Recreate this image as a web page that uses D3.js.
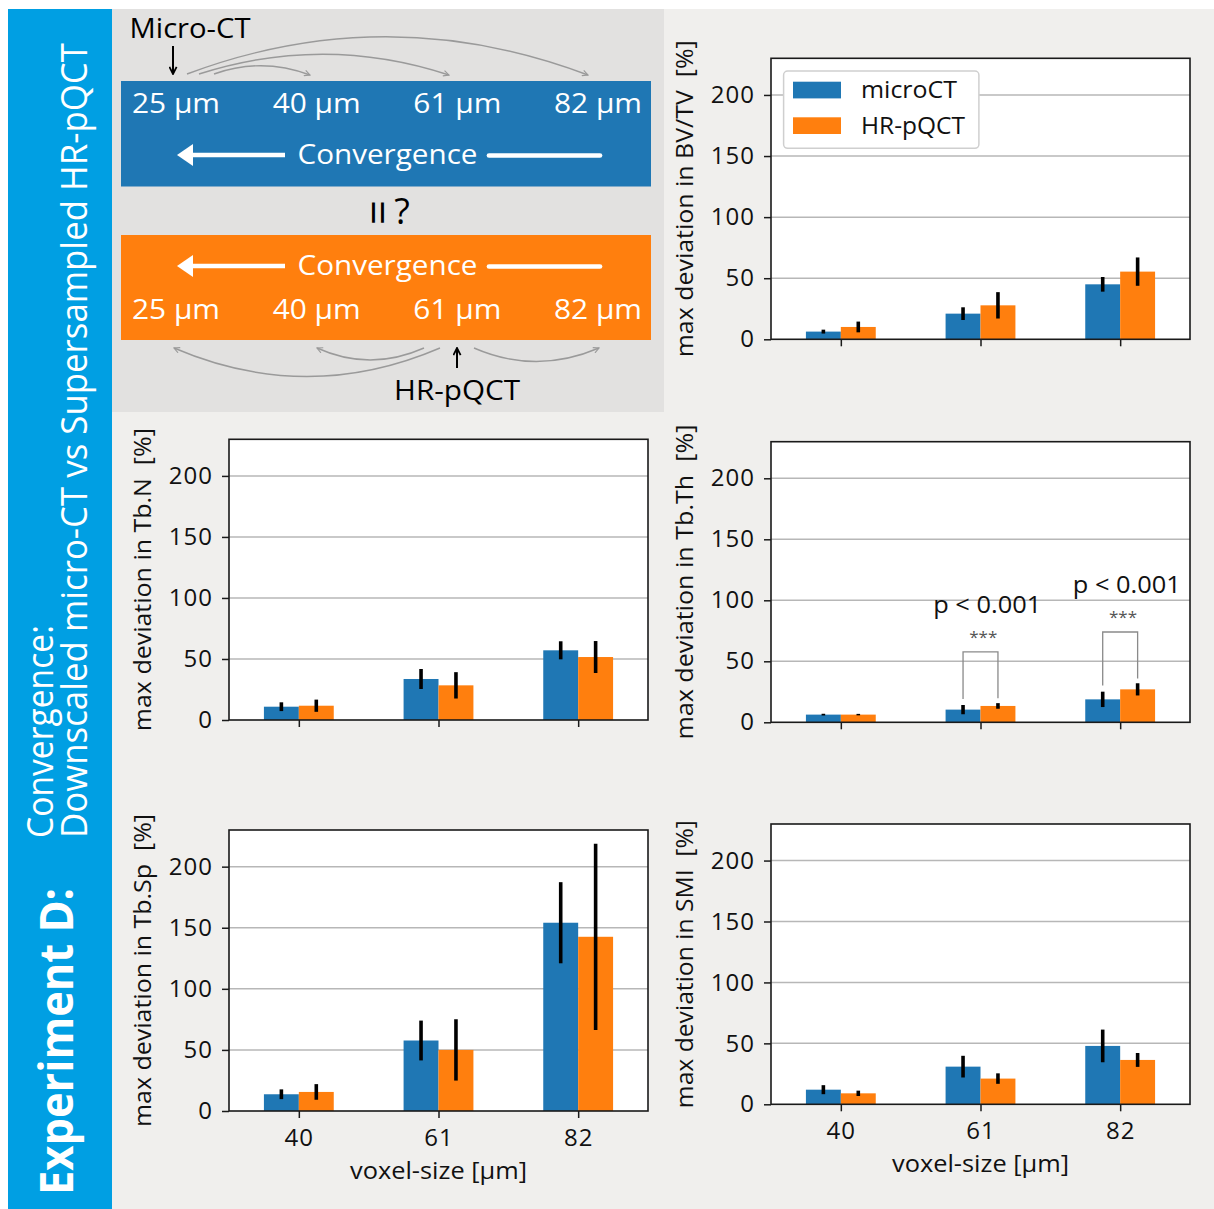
<!DOCTYPE html>
<html>
<head>
<meta charset="utf-8">
<script src="https://cdn.jsdelivr.net/npm/d3@7"></script>
<style>
  body { margin: 0; background: #ffffff; }
  svg { display: block; }
  text { font-family: "Open Sans", "Noto Sans", sans-serif; }
</style>
</head>
<body>
<svg id="fig" width="1214" height="1209"></svg>
<script>
// ---- data -------------------------------------------------------------
const voxelSizes = ["40", "61", "82"];          // downscaled / supersampled voxel size [µm]
const seriesNames = ["microCT", "HR-pQCT"];
const seriesColors = ["#1f77b4", "#ff7f0e"];
const yTickValues = [0, 50, 100, 150, 200];
const diagramSizes = ["25 µm", "40 µm", "61 µm", "82 µm"];

// max deviation [%] per voxel size: mean and error half-length
const bvtvMicro = [6.3, 21.0, 45.0],   bvtvMicroErr = [1.6, 5.2, 6.0];
const bvtvHr    = [10.1, 27.8, 55.4],  bvtvHrErr    = [4.4, 10.8, 11.6];

const tbnMicro  = [10.9, 33.6, 57.1],  tbnMicroErr  = [3.6, 8.2, 7.4];
const tbnHr     = [11.7, 28.4, 51.6],  tbnHrErr     = [5.0, 10.8, 13.1];

const tbthMicro = [6.3, 10.4, 18.8],   tbthMicroErr = [0.7, 3.8, 6.3];
const tbthHr    = [6.3, 13.4, 27.0],   tbthHrErr    = [0.6, 2.3, 5.0];

const tbspMicro = [13.7, 57.7, 154.1], tbspMicroErr = [4.0, 16.3, 33.2];
const tbspHr    = [15.6, 50.0, 142.6], tbspHrErr    = [6.4, 25.1, 76.2];

const smiMicro  = [12.0, 30.9, 47.9],  smiMicroErr  = [3.7, 8.9, 13.4];
const smiHr     = [9.0, 21.1, 36.4],   smiHrErr     = [2.2, 4.3, 5.7];

// significance between microCT and HR-pQCT (Tb.Th)
const tbthSigGroups = [1, 2];
const tbthSigLabels = ["p < 0.001", "p < 0.001"];
const tbthSigStars  = ["***", "***"];

// ---- figure -----------------------------------------------------------
const svg = d3.select("#fig");
const BG = "#f0efed";

svg.append("rect").attr("x", 8).attr("y", 9).attr("width", 1206).attr("height", 1200).attr("fill", BG);
svg.append("rect").attr("x", 8).attr("y", 9).attr("width", 104).attr("height", 1200).attr("fill", "#009fe3");

// side title
function sideText(x, y, str, size, weight, len) {
  svg.append("text")
    .attr("transform", `translate(${x},${y}) rotate(-90)`)
    .attr("fill", "#ffffff")
    .attr("font-size", size)
    .attr("font-weight", weight)
    .attr("textLength", len)
    .attr("lengthAdjust", "spacingAndGlyphs")
    .text(str);
}
sideText(72.7, 1195, "Experiment D:", 46, 700, 307);
sideText(53.3, 838, "Convergence:", 36, 400, 213);
sideText(87.3, 838, "Downscaled micro-CT vs Supersampled HR-pQCT", 36, 400, 795);

// ---- schematic: convergence of voxel sizes ---------------------------
const dg = svg.append("g");
dg.append("rect").attr("x", 112).attr("y", 9).attr("width", 552).attr("height", 403).attr("fill", "#e2e1e0");

const defs = svg.append("defs");
defs.append("marker").attr("id", "greyHead")
  .attr("viewBox", "0 0 10 10").attr("refX", 9).attr("refY", 5)
  .attr("markerWidth", 7).attr("markerHeight", 7).attr("markerUnits", "userSpaceOnUse")
  .attr("orient", "auto")
  .append("path").attr("d", "M1,1 L9,5 L1,9").attr("fill", "none").attr("stroke", "#9a9a9a").attr("stroke-width", 1.6);
defs.append("marker").attr("id", "blackHead")
  .attr("viewBox", "0 0 10 10").attr("refX", 9).attr("refY", 5)
  .attr("markerWidth", 9).attr("markerHeight", 9).attr("markerUnits", "userSpaceOnUse")
  .attr("orient", "auto")
  .append("path").attr("d", "M1,1 L9,5 L1,9").attr("fill", "none").attr("stroke", "#000").attr("stroke-width", 2);

const boxX = 121, boxW = 530;
const diagX = d3.scalePoint().domain(diagramSizes).range([132, 554]);

function convergenceBox(y, h, color, labelBase, arrowY, textBase) {
  dg.append("rect").attr("x", boxX).attr("y", y).attr("width", boxW).attr("height", h).attr("fill", color);
  dg.selectAll(null).data(diagramSizes).enter().append("text")
    .attr("x", d => diagX(d)).attr("y", labelBase)
    .attr("fill", "#fff").attr("font-size", 27)
    .attr("textLength", 88).attr("lengthAdjust", "spacingAndGlyphs")
    .text(d => d);
  dg.append("text").attr("x", 297.5).attr("y", textBase)
    .attr("fill", "#fff").attr("font-size", 28)
    .attr("textLength", 180).attr("lengthAdjust", "spacingAndGlyphs")
    .text("Convergence");
  dg.append("line").attr("x1", 285).attr("x2", 190).attr("y1", arrowY).attr("y2", arrowY)
    .attr("stroke", "#fff").attr("stroke-width", 4.7);
  dg.append("path").attr("d", `M177,${arrowY} L193,${arrowY - 11} L193,${arrowY + 11} Z`).attr("fill", "#fff");
  dg.append("line").attr("x1", 489).attr("x2", 600).attr("y1", arrowY + 0.5).attr("y2", arrowY + 0.5)
    .attr("stroke", "#fff").attr("stroke-width", 4.7).attr("stroke-linecap", "round");
}
convergenceBox(81, 105.5, seriesColors[0], 112.7, 155, 163.5);
convergenceBox(235, 105, seriesColors[1], 319.3, 266, 274.5);

// curved downscaling / supersampling arrows
const topArcs = [[187, 74, 387, -1, 588, 75], [199, 74, 324, 34, 449, 75], [214, 74, 262, 57, 310, 75]];
const bottomArcs = [[440, 348, 307, 405, 174, 348], [424, 348, 370, 372, 317, 348], [474, 348, 536, 375, 599, 348]];
dg.selectAll(null).data(topArcs.concat(bottomArcs)).enter().append("path")
  .attr("d", a => `M${a[0]},${a[1]} Q${a[2]},${a[3]} ${a[4]},${a[5]}`)
  .attr("fill", "none").attr("stroke", "#9a9a9a").attr("stroke-width", 1.4)
  .attr("marker-end", "url(#greyHead)");

dg.append("text").attr("x", 129.5).attr("y", 38.3).attr("font-size", 28).attr("fill", "#000")
  .attr("textLength", 121).attr("lengthAdjust", "spacingAndGlyphs").text("Micro-CT");
dg.append("line").attr("x1", 173).attr("x2", 173).attr("y1", 46).attr("y2", 74)
  .attr("stroke", "#000").attr("stroke-width", 2).attr("marker-end", "url(#blackHead)");
dg.append("text").attr("x", 394).attr("y", 400).attr("font-size", 28).attr("fill", "#000")
  .attr("textLength", 126).attr("lengthAdjust", "spacingAndGlyphs").text("HR-pQCT");
dg.append("line").attr("x1", 457).attr("x2", 457).attr("y1", 368).attr("y2", 348)
  .attr("stroke", "#000").attr("stroke-width", 2).attr("marker-end", "url(#blackHead)");

// "= ?" between both boxes (equals sign stood upright)
dg.append("text").attr("transform", "translate(376.5,212.5) rotate(90)")
  .attr("text-anchor", "middle").attr("dy", "0.32em").attr("font-size", 44).text("=");
dg.append("text").attr("x", 402).attr("y", 224).attr("text-anchor", "middle").attr("font-size", 36).text("?");

// ---- bar panels -------------------------------------------------------
const panels = [
  { name: "BV/TV", micro: bvtvMicro, microErr: bvtvMicroErr, hr: bvtvHr, hrErr: bvtvHrErr,
    left: 771, right: 1190, top: 58.3, bottom: 339.3, xLabels: false, legend: true, labelLen: 317 },
  { name: "Tb.N", micro: tbnMicro, microErr: tbnMicroErr, hr: tbnHr, hrErr: tbnHrErr,
    left: 229, right: 648, top: 439.3, bottom: 720, xLabels: false, labelLen: 303 },
  { name: "Tb.Th", micro: tbthMicro, microErr: tbthMicroErr, hr: tbthHr, hrErr: tbthHrErr,
    left: 771, right: 1190, top: 441.7, bottom: 722.3, xLabels: false, sig: true, labelLen: 315 },
  { name: "Tb.Sp", micro: tbspMicro, microErr: tbspMicroErr, hr: tbspHr, hrErr: tbspHrErr,
    left: 229, right: 648, top: 830, bottom: 1111, xLabels: true, labelLen: 313 },
  { name: "SMI", micro: smiMicro, microErr: smiMicroErr, hr: smiHr, hrErr: smiHrErr,
    left: 771, right: 1190, top: 824, bottom: 1104.3, xLabels: true, labelLen: 288 }
];

const barWidth = 0.25;

panels.forEach(p => {
  const g = svg.append("g");
  const x = d3.scaleLinear().domain([-0.5, 2.5]).range([p.left, p.right]);
  const y = d3.scaleLinear().domain([0, 230]).range([p.bottom, p.top]);

  g.append("rect").attr("x", p.left).attr("y", p.top)
    .attr("width", p.right - p.left).attr("height", p.bottom - p.top).attr("fill", "#ffffff");

  // horizontal grid
  g.selectAll(null).data(yTickValues.filter(v => v > 0)).enter().append("line")
    .attr("x1", p.left).attr("x2", p.right).attr("y1", d => y(d)).attr("y2", d => y(d))
    .attr("stroke", "#b7b7b7").attr("stroke-width", 1.5);

  const series = [
    { vals: p.micro, errs: p.microErr, off: -barWidth, color: seriesColors[0] },
    { vals: p.hr, errs: p.hrErr, off: 0, color: seriesColors[1] }
  ];
  series.forEach(s => {
    g.selectAll(null).data(s.vals).enter().append("rect")
      .attr("x", (d, i) => x(i + s.off))
      .attr("width", x(barWidth) - x(0))
      .attr("y", d => y(d))
      .attr("height", d => y(0) - y(d))
      .attr("fill", s.color);
  });
  series.forEach(s => {
    g.selectAll(null).data(s.vals).enter().append("line")
      .attr("x1", (d, i) => x(i + s.off + barWidth / 2))
      .attr("x2", (d, i) => x(i + s.off + barWidth / 2))
      .attr("y1", (d, i) => y(d - s.errs[i]))
      .attr("y2", (d, i) => y(d + s.errs[i]))
      .attr("stroke", "#000").attr("stroke-width", 3.6);
  });

  // axes
  const yAxis = d3.axisLeft(y).tickValues(yTickValues).tickSize(7).tickPadding(9);
  const ya = g.append("g").attr("transform", `translate(${p.left},0)`).call(yAxis);
  const xAxis = d3.axisBottom(x).tickValues([0, 1, 2]).tickSize(7).tickPadding(11)
    .tickFormat(i => p.xLabels ? voxelSizes[i] : "");
  const xa = g.append("g").attr("transform", `translate(0,${p.bottom})`).call(xAxis);
  [ya, xa].forEach(a => {
    a.select(".domain").remove();
    a.selectAll(".tick line").attr("stroke", "#1a1a1a").attr("stroke-width", 1.5);
    a.selectAll(".tick text").attr("font-size", 24).attr("fill", "#111")
      .attr("letter-spacing", 1)
      .attr("font-family", '"Open Sans", "Noto Sans", sans-serif');
  });

  g.append("rect").attr("x", p.left).attr("y", p.top)
    .attr("width", p.right - p.left).attr("height", p.bottom - p.top)
    .attr("fill", "none").attr("stroke", "#1a1a1a").attr("stroke-width", 1.6);

  g.append("text")
    .attr("transform", `translate(${p.left - 78},${(p.top + p.bottom) / 2}) rotate(-90)`)
    .attr("text-anchor", "middle").attr("font-size", 24).attr("fill", "#111")
    .attr("xml:space", "preserve")
    .attr("textLength", p.labelLen).attr("lengthAdjust", "spacingAndGlyphs")
    .text(`max deviation in ${p.name}  [%]`);

  if (p.xLabels) {
    g.append("text").attr("x", (p.left + p.right) / 2).attr("y", p.bottom + 68)
      .attr("text-anchor", "middle").attr("font-size", 24).attr("fill", "#111")
      .attr("textLength", 177).attr("lengthAdjust", "spacingAndGlyphs")
      .text("voxel-size [µm]");
  }

  if (p.legend) {
    const lg = g.append("g");
    lg.append("rect").attr("x", 783.6).attr("y", 71).attr("width", 195.3).attr("height", 77.3)
      .attr("rx", 4).attr("fill", "#ffffff").attr("stroke", "#cfcfcf").attr("stroke-width", 1.5);
    seriesNames.forEach((n, k) => {
      lg.append("rect").attr("x", 793).attr("y", 81.7 + k * 35.6).attr("width", 48).attr("height", 16.7)
        .attr("fill", seriesColors[k]);
      lg.append("text").attr("x", 861).attr("y", 98.3 + k * 35.6).attr("font-size", 24).attr("fill", "#111")
        .attr("textLength", k === 0 ? 96 : 104).attr("lengthAdjust", "spacingAndGlyphs")
        .text(n);
    });
  }

  if (p.sig) {
    tbthSigGroups.forEach((gi, k) => {
      const lTop = p.micro[gi] + p.microErr[gi];
      const rTop = p.hr[gi] + p.hrErr[gi];
      const lb = lTop + 5, rb = rTop + 4, top = Math.max(lTop, rTop) + 42;
      g.append("path")
        .attr("d", `M${x(gi - 0.125)},${y(lb)} L${x(gi - 0.125)},${y(top)} L${x(gi + 0.125)},${y(top)} L${x(gi + 0.125)},${y(rb)}`)
        .attr("fill", "none").attr("stroke", "#8a8a8a").attr("stroke-width", 1.3);
      g.append("text").attr("x", x(gi + 0.02)).attr("y", y(top + 12)).attr("dy", "0.35em")
        .attr("text-anchor", "middle").attr("font-size", 17).attr("fill", "#555")
        .text(tbthSigStars[k]);
      g.append("text").attr("x", x(gi + 0.048)).attr("y", y(top + 32))
        .attr("text-anchor", "middle").attr("font-size", 24).attr("fill", "#111")
        .attr("textLength", 108).attr("lengthAdjust", "spacingAndGlyphs")
        .text(tbthSigLabels[k]);
    });
  }
});
</script>
</body>
</html>
